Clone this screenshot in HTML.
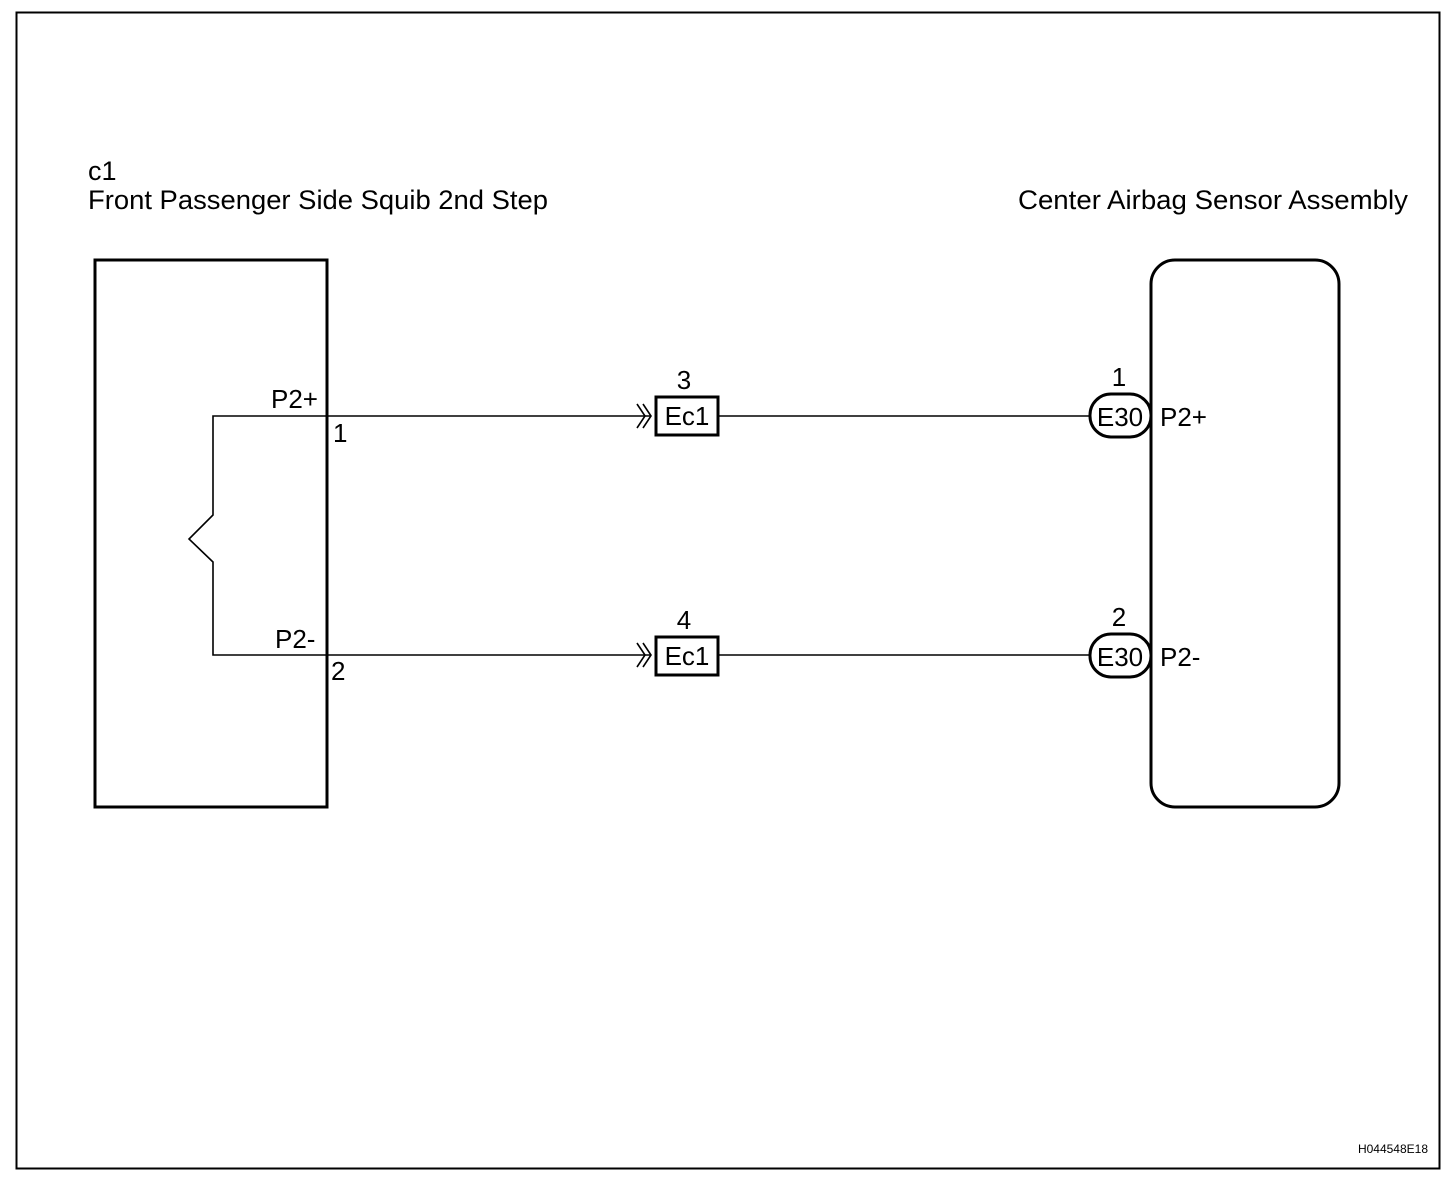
<!DOCTYPE html>
<html><head><meta charset="utf-8"><style>body{margin:0;background:#fff}svg{display:block}</style></head><body>
<svg width="1456" height="1184" viewBox="0 0 1456 1184" xmlns="http://www.w3.org/2000/svg" font-family="Liberation Sans, Arial, sans-serif" fill="#000">
<rect x="16.5" y="12.5" width="1423" height="1156" fill="none" stroke="#000" stroke-width="2"/>
<text x="88" y="180" font-size="27">c1</text>
<text x="88" y="209" font-size="27" textLength="460" lengthAdjust="spacingAndGlyphs">Front Passenger Side Squib 2nd Step</text>
<text x="1018" y="209" font-size="27" textLength="390" lengthAdjust="spacingAndGlyphs">Center Airbag Sensor Assembly</text>
<rect x="95" y="260" width="232" height="547" fill="none" stroke="#000" stroke-width="3"/>
<rect x="1151" y="260" width="188" height="547" rx="24" fill="none" stroke="#000" stroke-width="3"/>
<g stroke="#000" stroke-width="1.6" fill="none">
<polyline points="650,416 213,416 213,515 189,539 213,562 213,655 650,655"/>
<line x1="719" y1="416" x2="1089" y2="416"/>
<line x1="719" y1="655" x2="1089" y2="655"/>
<polyline points="637,404 645,416 637,428"/><polyline points="643,404 651,416 643,428"/>
<polyline points="637,643 645,655 637,667"/><polyline points="643,643 651,655 643,667"/>
</g>
<g stroke="#000" stroke-width="3" fill="#fff">
<rect x="656" y="397" width="62" height="38"/>
<rect x="656" y="637" width="62" height="38"/>
<rect x="1090" y="394" width="61" height="43" rx="21"/>
<rect x="1090" y="634" width="61" height="43" rx="21"/>
</g>
<g font-size="26">
<text x="271" y="408">P2+</text>
<text x="333" y="442">1</text>
<text x="275" y="648">P2-</text>
<text x="331" y="680">2</text>
<text x="684" y="389" text-anchor="middle">3</text>
<text x="684" y="629" text-anchor="middle">4</text>
<text x="687" y="425" text-anchor="middle">Ec1</text>
<text x="687" y="665" text-anchor="middle">Ec1</text>
<text x="1119" y="386" text-anchor="middle">1</text>
<text x="1119" y="626" text-anchor="middle">2</text>
<text x="1120" y="426" text-anchor="middle">E30</text>
<text x="1120" y="666" text-anchor="middle">E30</text>
<text x="1160" y="426">P2+</text>
<text x="1160" y="666">P2-</text>
</g>
<text x="1428" y="1153" font-size="12" text-anchor="end">H044548E18</text>
</svg>
</body></html>
